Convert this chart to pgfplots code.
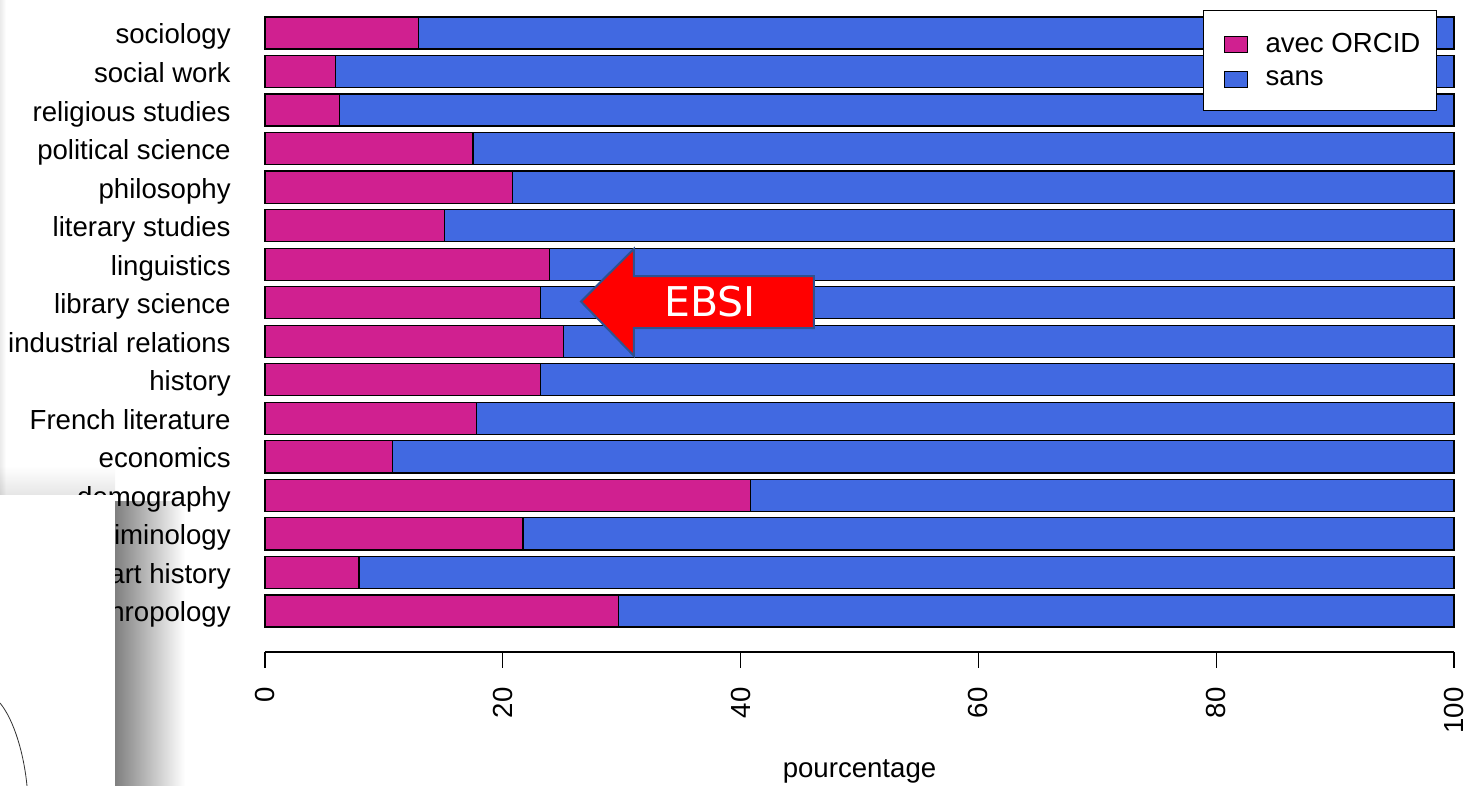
\documentclass[border=0pt]{standalone}
\usepackage{pgfplots}
\pgfplotsset{compat=1.18}
\usepackage{fontspec}
\setmainfont{Liberation Sans}
\newfontfamily\dejavu{DejaVu Sans}
\newcommand\rf{\fontsize{13.8pt}{16pt}\selectfont}
\definecolor{violetred}{HTML}{D02090}
\definecolor{royalblue}{HTML}{4169E1}
\definecolor{arrowedge}{HTML}{2F528F}

% share of researchers with ORCID, bottom (anthropology) to top (sociology)
\begin{document}
\begin{tikzpicture}
\useasboundingbox (0,0) rectangle (734pt,393pt);
\begin{axis}[
    at={(132.5pt,67pt)}, anchor=south west,
    scale only axis, width=594.5pt, height=326pt,
    xbar stacked, bar width=0.833,
    xmin=0, xmax=100, ymin=-1.064, ymax=15.856,
    axis lines*=left,
    y axis line style={draw=none},
    ytick style={draw=none},
    axis line style={line width=0.6pt},
    xtick={0,20,...,100},
    tick align=outside,
    major tick length=8pt,
    xtick style={black, line width=0.6pt},
    /pgf/number format/assume math mode=true,
    ticklabel style={font=\rf},
    xticklabel style={yshift=-9.5pt, rotate=90, anchor=east, inner sep=0pt},
    ytick={0,...,15},
    yticklabels={anthropology, art history, criminology, demography, economics,
      French literature, history, industrial relations, library science,
      linguistics, literary studies, philosophy, political science,
      religious studies, social work, sociology},
    yticklabel style={anchor=base east, inner sep=0pt, xshift=-9pt, yshift=-5.5pt},
    xlabel={pourcentage},
    xlabel style={font=\rf, at={(axis description cs:0.5,-0.1918)}, anchor=base},
    clip=false,
    legend cell align=left,
    legend image code/.code={
      \path[draw=none, fill=none] (-2pt,0) -- (21pt,0);
      \draw[#1] (1.5pt,-4pt) rectangle (13pt,4pt);},
    legend style={at={(axis cs:98.57,15.597)}, anchor=north east,
      draw=black, line width=0.6pt, fill=white, font=\rf,
      inner xsep=7pt, inner ysep=10.25pt, row sep=5.5pt,
      nodes={inner sep=1pt},
      /tikz/every even column/.append style={column sep=0pt}},
    after end axis/.code={
      % EBSI arrow
      \draw[fill=red, draw=arrowedge, line width=1pt, line join=miter]
        (axis cs:26.58,8.03) -- (axis cs:31.03,9.40) -- (axis cs:31.03,8.69)
        -- (axis cs:46.17,8.69) -- (axis cs:46.17,7.34) -- (axis cs:31.03,7.34)
        -- (axis cs:31.03,6.62) -- cycle;
      \node[text=white, font=\dejavu\fontsize{20.5pt}{24pt}\selectfont]
        at (axis cs:37.43,8.04) {EBSI};
    },
]
\addplot[fill=violetred, draw=black, line width=0.6pt] coordinates {
  (29.7,0) (7.9,1) (21.7,2) (40.8,3) (10.7,4) (17.8,5) (23.2,6) (25.1,7)
  (23.2,8) (23.9,9) (15.1,10) (20.8,11) (17.5,12) (6.25,13) (5.95,14) (12.9,15)
};
\addplot[fill=royalblue, draw=black, line width=0.6pt] coordinates {
  (70.3,0) (92.1,1) (78.3,2) (59.2,3) (89.3,4) (82.2,5) (76.8,6) (74.9,7)
  (76.8,8) (76.1,9) (84.9,10) (79.2,11) (82.5,12) (93.75,13) (94.05,14) (87.1,15)
};
\legend{avec ORCID, sans}
\end{axis}
% window overlay at bottom left
\shade[left color=black!8, right color=white, blend mode=multiply] (0,145.5pt) rectangle (3pt,393pt);
\shade[top color=white, bottom color=black!10, blend mode=multiply] (0,145.5pt) rectangle (57.5pt,160pt);
\shade[left color=black!50, right color=white, blend mode=multiply] (57.5pt,0) rectangle (92.5pt,142pt);
\fill[white] (0,0) rectangle (57.5pt,145.5pt);
\draw[black!80, line width=0.4pt] (0,41.5pt) .. controls (7pt,33pt) and (12pt,16pt) .. (13.5pt,0);
\end{tikzpicture}
\end{document}
